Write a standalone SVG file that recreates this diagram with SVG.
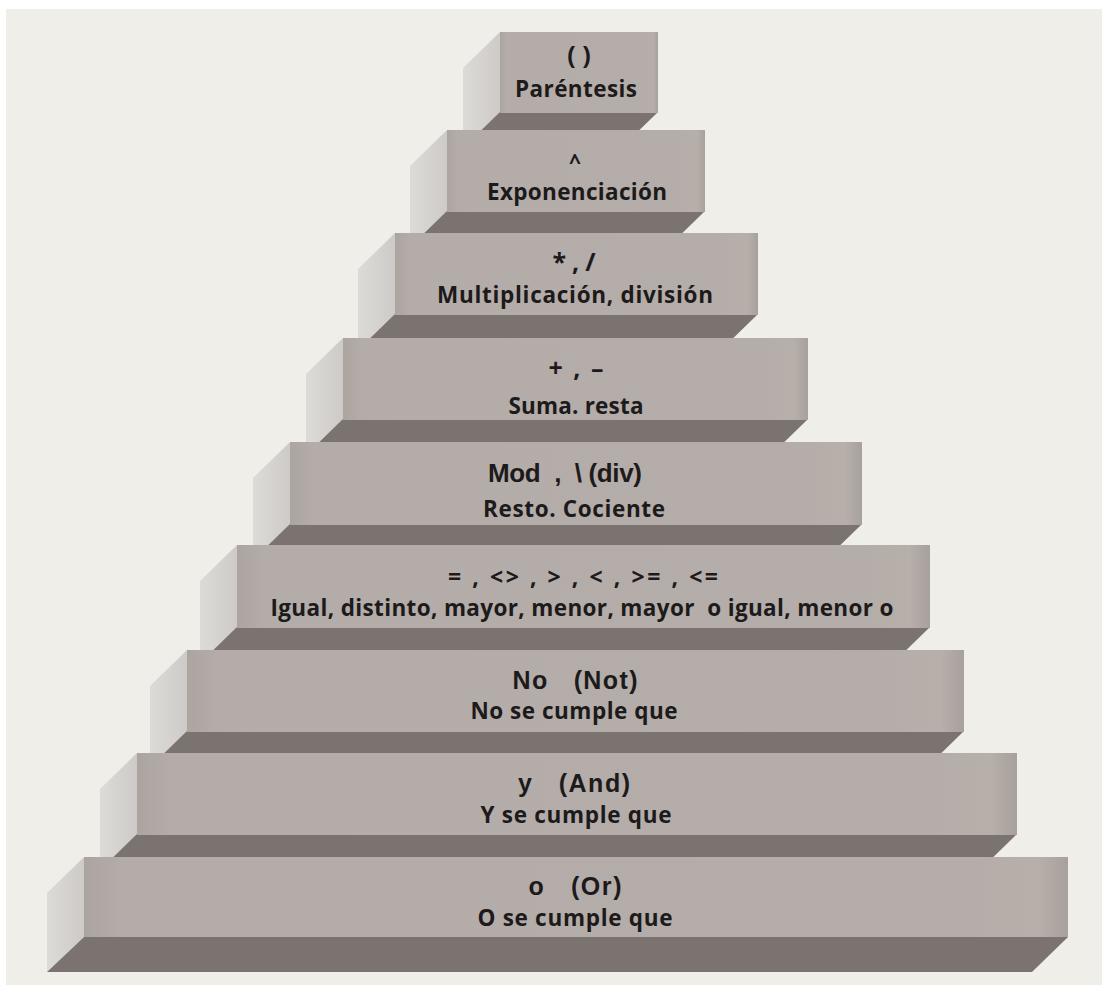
<svg xmlns="http://www.w3.org/2000/svg" width="1102" height="985" viewBox="0 0 1102 985">
<style>
.front{fill:url(#gFront)}
.side{fill:url(#gSide)}
.bottom{fill:#7b736f}
.t{font-family:"Open Sans","Liberation Sans",sans-serif;font-weight:700;fill:#1c1a1a;text-anchor:middle;font-size:22.5px}
.s{font-family:"Open Sans","Liberation Sans",sans-serif;font-weight:700;fill:#1c1a1a;text-anchor:middle;font-size:25px}
.h{font-family:"Liberation Sans","Open Sans",sans-serif;font-weight:700;fill:#1c1a1a;text-anchor:middle;font-size:25px}
</style>
<defs>
<linearGradient id="gFront" x1="0" y1="0" x2="1" y2="0">
<stop offset="0" stop-color="#aba49f"/>
<stop offset="0.04" stop-color="#b4aca9"/>
<stop offset="0.9" stop-color="#b5ada9"/>
<stop offset="0.97" stop-color="#b7afa9"/>
<stop offset="1" stop-color="#a8a09c"/>
</linearGradient>
<linearGradient id="gSide" x1="0" y1="0" x2="1" y2="0">
<stop offset="0" stop-color="#dddbd7"/>
<stop offset="1" stop-color="#cdcac7"/>
</linearGradient>
</defs>
<rect x="0" y="0" width="1102" height="985" fill="#ffffff"/>
<rect x="6" y="9" width="1096" height="976" fill="#efeee9"/>

<g id="step1">
<polygon class="side" points="500,32 500,113 463,149 463,68"/>
<polygon class="bottom" points="500,112 658,112 621,148 463,148"/>
<rect class="front" x="500" y="32" width="158" height="81"/>
<text class="s" x="579" y="64" xml:space="preserve">( )</text>
<text class="t" x="576" y="97" textLength="122">Paréntesis</text>
</g>

<g id="step2">
<polygon class="side" points="447,130 447,212 410,248 410,166"/>
<polygon class="bottom" points="447,211 705,211 668,247 410,247"/>
<rect class="front" x="447" y="130" width="258" height="82"/>
<text class="t" x="575" y="169" style="font-size:21px">^</text>
<text class="t" x="577" y="200" textLength="180">Exponenciación</text>
</g>

<g id="step3">
<polygon class="side" points="395,233 395,315 358,351 358,269"/>
<polygon class="bottom" points="395,314 758,314 721,350 358,350"/>
<rect class="front" x="395" y="233" width="363" height="82"/>
<text class="s" x="574" y="271" xml:space="preserve" textLength="43">* , /</text>
<text class="t" x="575" y="303" textLength="276">Multiplicación, división</text>
</g>

<g id="step4">
<polygon class="side" points="343,338 343,420 306,456 306,374"/>
<polygon class="bottom" points="343,419 808,419 771,455 306,455"/>
<rect class="front" x="343" y="338" width="465" height="82"/>
<text class="s" x="576" y="377" xml:space="preserve" textLength="55">+ , –</text>
<text class="t" x="576" y="414" textLength="135">Suma. resta</text>
</g>

<g id="step5">
<polygon class="side" points="290,442 290,525 253,561 253,478"/>
<polygon class="bottom" points="290,524 862,524 825,560 253,560"/>
<rect class="front" x="290" y="442" width="572" height="83"/>
<text class="h" x="565" y="482" xml:space="preserve" textLength="154" style="font-size:26px">Mod  ,  \ (div)</text>
<text class="t" x="574" y="517" textLength="182">Resto. Cociente</text>
</g>

<g id="step6">
<polygon class="side" points="237,545 237,628 200,664 200,581"/>
<polygon class="bottom" points="237,627 930,627 893,663 200,663"/>
<rect class="front" x="237" y="545" width="693" height="83"/>
<text class="s" x="583" y="585" xml:space="preserve" textLength="270" style="font-size:23px">= , &lt;&gt; , &gt; , &lt; , &gt;= , &lt;=</text>
<text class="t" x="582" y="616" xml:space="preserve" textLength="623">Igual, distinto, mayor, menor, mayor  o igual, menor o</text>
</g>

<g id="step7">
<polygon class="side" points="187,650 187,732 150,768 150,686"/>
<polygon class="bottom" points="187,731 964,731 927,767 150,767"/>
<rect class="front" x="187" y="650" width="777" height="82"/>
<text class="h" x="575" y="689" xml:space="preserve" textLength="125">No   (Not)</text>
<text class="t" x="574" y="719" textLength="207">No se cumple que</text>
</g>

<g id="step8">
<polygon class="side" points="137,753 137,835 100,871 100,789"/>
<polygon class="bottom" points="137,834 1017,834 980,870 100,870"/>
<rect class="front" x="137" y="753" width="880" height="82"/>
<text class="h" x="574" y="792" xml:space="preserve" textLength="112">y   (And)</text>
<text class="t" x="576" y="823" textLength="191">Y se cumple que</text>
</g>

<g id="step9">
<polygon class="side" points="84,857 84,937 47,972 47,893"/>
<polygon class="bottom" points="84,937 1068,937 1032,972 47,972"/>
<rect class="front" x="84" y="857" width="984" height="80"/>
<text class="h" x="575" y="895" xml:space="preserve" textLength="93">o   (Or)</text>
<text class="t" x="575" y="926" textLength="195">O se cumple que</text>
</g>

<g id="connectors"></g>
</svg>
